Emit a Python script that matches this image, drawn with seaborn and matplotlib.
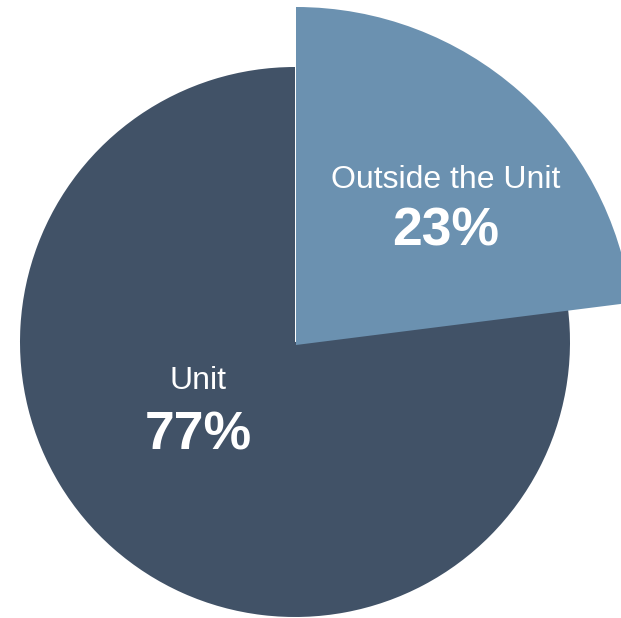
import matplotlib
matplotlib.use("Agg")
import matplotlib.pyplot as plt
import seaborn as sns

# data
labels = ["Unit", "Outside the Unit"]
shares = [77, 23]
colors = ["#415267", "#6b91b0"]

sns.set_theme(style="white")
plt.rcParams["font.family"] = ["Liberation Sans", "DejaVu Sans"]

fig = plt.figure(figsize=(6.21, 6.18), dpi=100)
ax = fig.add_axes([0, 0, 1, 1])

# main pie (Unit) and the larger "Outside the Unit" slice drawn on top
ax.pie(shares, colors=[colors[0], "none"], startangle=90, counterclock=True,
       center=(295, 276), radius=275, wedgeprops={"linewidth": 0})
ax.pie(shares, colors=["none", colors[1]], startangle=90, counterclock=True,
       center=(296, 273), radius=338, wedgeprops={"linewidth": 0})

ax.set_xlim(0, 621)
ax.set_ylim(0, 618)
ax.set_aspect("equal")
ax.axis("off")

# labels
ax.text(198, 618 - 381, labels[0], color="white", fontsize=23, ha="center", va="center")
ax.text(198, 618 - 436, f"{shares[0]}%", color="white", fontsize=38.5,
        fontweight="bold", ha="center", va="center")
ax.text(446, 618 - 180, labels[1], color="white", fontsize=23, ha="center", va="center")
ax.text(446, 618 - 232, f"{shares[1]}%", color="white", fontsize=38.5,
        fontweight="bold", ha="center", va="center")

plt.savefig("out.png", dpi=100)
